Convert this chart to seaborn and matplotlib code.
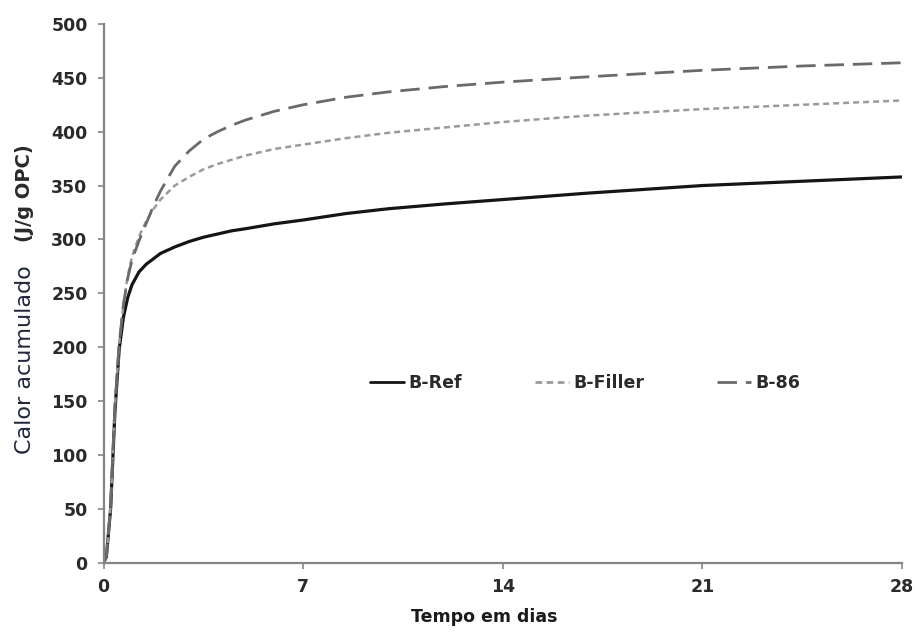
import numpy as np
import pandas as pd
import matplotlib
matplotlib.use("Agg")
import matplotlib.pyplot as plt
import seaborn as sns

dias = [0, 0.1, 0.25, 0.4, 0.55, 0.7, 0.85, 1.0, 1.25, 1.5, 1.75, 2, 2.5, 3, 3.5, 4,
        4.5, 5, 6, 7, 8.5, 10, 12, 14, 17, 21, 24.5, 28]
b_ref = [0, 5, 50, 140, 198, 228, 246, 258, 270, 277, 282, 287, 293, 298, 302, 305,
         308, 310, 314.5, 318, 324, 328.5, 333, 337, 343, 350, 354, 358]
b_filler = [0, 5, 52, 145, 203, 240, 266, 284, 303, 317, 328, 337, 350, 358, 365, 370,
            374, 378, 384, 388, 394, 399, 404, 409, 415, 421, 425, 429]
b_86 = [0, 5, 52, 145, 203, 240, 264, 281, 299, 315, 331, 345, 368, 382, 393, 400,
        406, 411, 419, 425, 432, 437, 442, 446, 451, 457, 461, 464]
series = ["B-Ref", "B-Filler", "B-86"]
x_ticks = [0, 7, 14, 21, 28]
y_ticks = list(range(0, 501, 50))

df = pd.concat([
    pd.DataFrame({"dia": dias, "calor": v, "serie": s})
    for s, v in zip(series, [b_ref, b_filler, b_86])
], ignore_index=True)

sns.set_style("white")
plt.rcParams["font.family"] = ["DejaVu Sans"]

W, H = 915, 634
fig = plt.figure(figsize=(W / 100, H / 100), dpi=100)
x0, x1, y_top, y_bot = 103.5, 902, 24, 562.5
ax = fig.add_axes([x0 / W, 1 - y_bot / H, (x1 - x0) / W, (y_bot - y_top) / H])

palette = {"B-Ref": "#151515", "B-Filler": "#9a9a9a", "B-86": "#6a6a6a"}
dashes = {"B-Ref": "", "B-Filler": (2.4, 1.6), "B-86": (7.0, 3.2)}
sns.lineplot(data=df, x="dia", y="calor", hue="serie", style="serie",
             palette=palette, dashes=dashes, hue_order=series, style_order=series,
             ax=ax, linewidth=2.0, legend=True)

widths = {"B-Ref": 2.3, "B-Filler": 1.8, "B-86": 2.0}
for line, s in zip(ax.get_lines()[:3], series):
    line.set_linewidth(widths[s])
    line.set_solid_joinstyle("round")
    line.set_dash_joinstyle("round")

ax.set_xlim(0, 28)
ax.set_ylim(0, 500)
ax.set_xticks(x_ticks)
ax.set_yticks(y_ticks)
ax.set_xticklabels([str(t) for t in x_ticks])
ax.set_yticklabels([str(t) for t in y_ticks])

for sp in ["top", "right"]:
    ax.spines[sp].set_visible(False)
for sp in ["left", "bottom"]:
    ax.spines[sp].set_color("#858585")
    ax.spines[sp].set_linewidth(1.6)

ax.tick_params(axis="both", which="major", direction="out", length=4.5, width=1.2,
               color="#858585", labelsize=12.5, labelcolor="#2a2a2a",
               left=True, bottom=True)
ax.tick_params(axis="y", pad=7)
ax.tick_params(axis="x", pad=7)
for lab in ax.get_xticklabels() + ax.get_yticklabels():
    lab.set_fontweight("bold")

ax.set_xlabel("")
ax.set_ylabel("")
fig.text(484 / W, 1 - 617 / H, "Tempo em dias", ha="center", va="center",
         fontsize=12.5, fontweight="bold", color="#1a1a1a")
fig.text(25 / W, 1 - 360 / H, "Calor acumulado", rotation=90, ha="center",
         va="center", fontsize=16, color="#1c2740")
fig.text(25 / W, 1 - 193 / H, "(J/g OPC)", rotation=90, ha="center",
         va="center", fontsize=14, fontweight="bold", color="#2a2a2a")

handles, labels = ax.get_legend_handles_labels()
leg = ax.legend(handles[-3:], labels[-3:], loc="center",
                bbox_to_anchor=((585 - x0) / (x1 - x0), (y_bot - 383) / (y_bot - y_top)),
                ncol=3, frameon=False, handlelength=1.95, handletextpad=0.25,
                columnspacing=4.2, prop={"weight": "bold", "size": 12.5})
for t in leg.get_texts():
    t.set_color("#2a2a2a")

fig.savefig("out.png", dpi=100, facecolor="white")
